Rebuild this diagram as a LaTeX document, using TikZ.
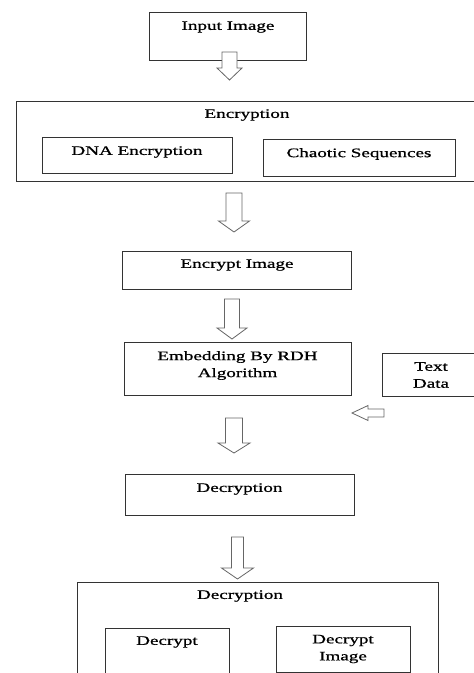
\documentclass[tikz,border=0pt]{standalone}
\usepackage{fontspec}
\setmainfont{Liberation Serif}[FakeStretch=1.47,FakeBold=0.9]
\begin{document}
\begin{tikzpicture}[x=1pt,y=-1pt,
  box/.style={draw=black!80,line width=1pt,inner sep=0pt},
  lbl/.style={font=\fontsize{13}{17}\selectfont,align=center,inner sep=0pt},
  blk/.style={draw=black!60,line width=0.8pt,fill=white,line join=miter}]
\useasboundingbox (0,0) rectangle (474,673);
\newcommand\blkdown[6]{\draw[blk] (#1-#5,#2) -- (#1+#5,#2) -- (#1+#5,#3) -- (#1+#6,#3) -- (#1,#4) -- (#1-#6,#3) -- (#1-#5,#3) -- cycle;}
% Input image
\node[box,minimum width=157pt,minimum height=48pt] (input) at (228,36) {};
\node[lbl] (inputT) at (228,27) {Input Image};
\blkdown{229.5}{52}{68}{80}{7.5}{12.5}
% Encryption group
\draw[box] (16,101) rectangle (490,181);
\node[lbl] (encT) at (247,115) {Encryption};
\node[box,minimum width=190pt,minimum height=36pt] (dna) at (137,155) {};
\node[lbl] at (137,152) {DNA Encryption};
\node[box,minimum width=192pt,minimum height=37pt] (chaos) at (359,157.5) {};
\node[lbl] at (359,154) {Chaotic Sequences};
\blkdown{234}{193}{221}{232}{8}{15.5}
% Encrypt image
\node[box,minimum width=229pt,minimum height=38pt] (encimg) at (237,270) {};
\node[lbl] at (237,265) {Encrypt Image};
\blkdown{232}{299}{328}{339}{7.5}{15}
% Embedding
\node[box,minimum width=227pt,minimum height=53pt] (embed) at (237.5,368.5) {};
\node[lbl] at (237.5,365.5) {Embedding By RDH\\Algorithm};
% Text data
\node[box,minimum width=94pt,minimum height=43pt] (text) at (429,374.5) {};
\node[lbl] at (431,375) {Text\\Data};
\draw[blk] (384,409) -- (368,409) -- (368,405.5) -- (352,413) -- (368,420.5) -- (368,417) -- (384,417) -- cycle;
\blkdown{234}{418}{443}{453}{8.5}{16}
% Decryption
\node[box,minimum width=229pt,minimum height=41pt] (dec) at (239.5,495) {};
\node[lbl] at (239.5,489) {Decryption};
\blkdown{237.5}{537}{568}{579}{6}{16}
% Decryption group
\draw[box] (77,690) -- (77,582) -- (438,582) -- (438,690);
\node[lbl] (decT) at (240,596) {Decryption};
\draw[box] (105,690) -- (105,628) -- (229,628) -- (229,690);
\node[lbl] at (167,642) {Decrypt};
\draw[box] (276,672) -- (276,626) -- (410,626) -- (410,672) -- cycle;
\node[lbl] at (343,649) {Decrypt\\Image};
\end{tikzpicture}
\end{document}
